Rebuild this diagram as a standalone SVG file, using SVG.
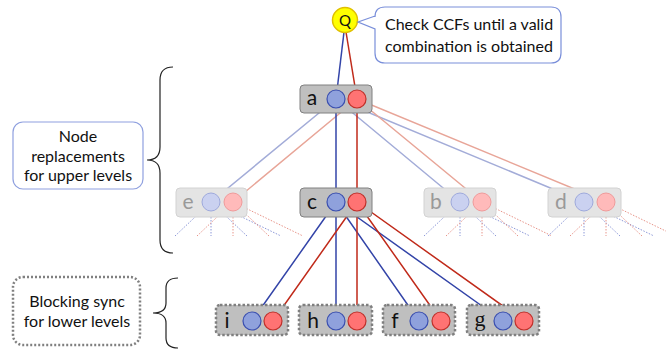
<svg xmlns="http://www.w3.org/2000/svg" width="666" height="352" viewBox="0 0 666 352">
<defs>
<style>
.txt{font-family:Lato,"Open Sans","Liberation Sans",sans-serif;fill:#111}
.lbl{font-family:Lato,"Open Sans","Liberation Sans",sans-serif;font-size:21px;fill:#111}
.flbl{font-family:Lato,"Open Sans","Liberation Sans",sans-serif;font-size:21px;fill:#999}
.box{fill:#BFBFBF;stroke:#808080;stroke-width:1}
.fbox{fill:#E4E4E4;stroke:#D2D2D2;stroke-width:1}
.dbox{fill:#BFBFBF;stroke:#7F7F7F;stroke-width:2.5;stroke-dasharray:2.5 2}
.bc{fill:#8FA1DC;stroke:#3A4FB0;stroke-width:1.2}
.rc{fill:#FF7373;stroke:#C0302A;stroke-width:1.2}
.fbc{fill:#CAD1F0;stroke:#9EA9DC;stroke-width:1}
.frc{fill:#FFBABA;stroke:#F09A9A;stroke-width:1}
.bl{stroke:#3344A8;stroke-width:1.5;fill:none}
.rl{stroke:#C02A1A;stroke-width:1.5;fill:none}
.fbl{stroke:#A3ACD8;stroke-width:1.5;fill:none}
.frl{stroke:#E8A598;stroke-width:1.5;fill:none}
.dbl{stroke:#8C98D8;stroke-width:1;stroke-dasharray:1.5 1.5;fill:none}
.drl{stroke:#E8958A;stroke-width:1;stroke-dasharray:1.5 1.5;fill:none}
.brace{stroke:#222;stroke-width:1.2;fill:none}
</style>
</defs>
<rect width="666" height="352" fill="#fff"/>

<g id="connectors">
  <g>
    <path class="dbl" d="M211,202 L175,236 M211,202 L211,236 M211,202 L247,236 M211,202 L281,236"/>
    <path class="drl" d="M233,202 L197,236 M233,202 L233,236 M233,202 L269,236 M233,202 L303,236"/>
    <path class="dbl" d="M460,202 L424,236 M460,202 L460,236 M460,202 L496,236 M460,202 L530,236"/>
    <path class="drl" d="M482,202 L446,236 M482,202 L482,236 M482,202 L518,236 M482,202 L552,236"/>
    <path class="dbl" d="M584,202 L548,236 M584,202 L584,236 M584,202 L620,236 M584,202 L654,236"/>
    <path class="drl" d="M606,202 L570,236 M606,202 L606,236 M606,202 L642,236 M606,202 L676,236"/>
  </g>
  <path class="fbl" d="M336,99 L211,202 M336,99 L460,202 M336,99 L584,202"/>
  <path class="frl" d="M357,99 L233,202 M357,99 L482,202 M357,99 L606,202"/>
  <path class="bl" d="M344,32 L336,99"/>
  <path class="rl" d="M346,32 L357,99"/>
  <path class="bl" d="M336,99 L336,202"/>
  <path class="rl" d="M357,99 L357,202"/>
  <path class="bl" d="M336,202 L252,321 M336,202 L336,321 M336,202 L419,321 M336,202 L503,321"/>
  <path class="rl" d="M357,202 L273,321 M357,202 L357,321 M357,202 L441,321 M357,202 L524,321"/>
</g>

<g id="Q">
  <circle cx="345" cy="20" r="12.5" fill="#FFFF00" stroke="#E0C000" stroke-width="1.5"/>
  <text x="345" y="25.5" text-anchor="middle" class="txt" font-size="15">Q</text>
</g>

<g id="callout">
  <path d="M385,7 H551 Q561,7 561,17 V53 Q561,63 551,63 H385 Q375,63 375,53 V29 L358,22 L375,16 V17 Q375,7 385,7 Z" fill="#fff" stroke="#7A8FDA" stroke-width="1.2"/>
  <text class="txt" font-size="16" x="385" y="30">Check CCFs until a valid</text>
  <text class="txt" font-size="16" x="385" y="52">combination is obtained</text>
</g>

<g id="node-a">
  <rect class="box" x="300" y="85" width="72" height="28" rx="4"/>
  <text class="lbl" x="312" y="105" text-anchor="middle">a</text>
  <circle class="bc" cx="336" cy="99" r="9"/>
  <circle class="rc" cx="357" cy="99" r="9"/>
</g>

<g id="node-e">
  <rect class="fbox" x="176" y="188" width="71" height="29" rx="4"/>
  <text class="flbl" x="188" y="209" text-anchor="middle">e</text>
  <circle class="fbc" cx="211" cy="202" r="9"/>
  <circle class="frc" cx="233" cy="202" r="9"/>
</g>
<g id="node-c">
  <rect class="box" x="300" y="188" width="72" height="29" rx="4"/>
  <text class="lbl" x="312" y="209" text-anchor="middle">c</text>
  <circle class="bc" cx="336" cy="202" r="9"/>
  <circle class="rc" cx="357" cy="202" r="9"/>
</g>
<g id="node-b">
  <rect class="fbox" x="424" y="188" width="72" height="29" rx="4"/>
  <text class="flbl" x="436" y="209" text-anchor="middle">b</text>
  <circle class="fbc" cx="460" cy="202" r="9"/>
  <circle class="frc" cx="482" cy="202" r="9"/>
</g>
<g id="node-d">
  <rect class="fbox" x="548" y="188" width="73" height="29" rx="4"/>
  <text class="flbl" x="561" y="209" text-anchor="middle">d</text>
  <circle class="fbc" cx="584" cy="202" r="9"/>
  <circle class="frc" cx="606" cy="202" r="9"/>
</g>

<g id="node-i">
  <rect class="dbox" x="216" y="305" width="72" height="30" rx="4"/>
  <text class="lbl" x="227" y="328" text-anchor="middle">i</text>
  <circle class="bc" cx="252" cy="321" r="9"/>
  <circle class="rc" cx="273" cy="321" r="9"/>
</g>
<g id="node-h">
  <rect class="dbox" x="299" y="305" width="73" height="30" rx="4"/>
  <text class="lbl" x="313" y="328" text-anchor="middle">h</text>
  <circle class="bc" cx="336" cy="321" r="9"/>
  <circle class="rc" cx="357" cy="321" r="9"/>
</g>
<g id="node-f">
  <rect class="dbox" x="383" y="305" width="72" height="30" rx="4"/>
  <text class="lbl" x="395" y="328" text-anchor="middle">f</text>
  <circle class="bc" cx="419" cy="321" r="9"/>
  <circle class="rc" cx="441" cy="321" r="9"/>
</g>
<g id="node-g">
  <rect class="dbox" x="467" y="305" width="72" height="30" rx="4"/>
  <text x="480" y="326" text-anchor="middle" font-family="'Liberation Serif',serif" font-size="22" fill="#111">g</text>
  <circle class="bc" cx="503" cy="321" r="9"/>
  <circle class="rc" cx="524" cy="321" r="9"/>
</g>

<g id="upper-label">
  <rect x="13" y="122" width="130" height="67" rx="10" fill="#fff" stroke="#8FA0DF" stroke-width="1.2"/>
  <text class="txt" font-size="16" text-anchor="middle" x="78" y="142">Node</text>
  <text class="txt" font-size="16" text-anchor="middle" x="78" y="162">replacements</text>
  <text class="txt" font-size="16" text-anchor="middle" x="78" y="181">for upper levels</text>
  <path class="brace" d="M173,67 Q160,67 160,80 V147 Q160,160 147,160 Q160,160 160,173 V240 Q160,253 173,253"/>
</g>

<g id="lower-label">
  <rect x="13" y="277" width="127" height="68" rx="10" fill="#fff" stroke="#808080" stroke-width="2.5" stroke-dasharray="2 2"/>
  <text class="txt" font-size="16" text-anchor="middle" x="77" y="307">Blocking sync</text>
  <text class="txt" font-size="16" text-anchor="middle" x="77" y="327">for lower levels</text>
  <path class="brace" d="M178,278 Q166,278 166,288 V303 Q166,313 153,313 Q166,313 166,323 V338 Q166,348 178,348"/>
</g>
</svg>
